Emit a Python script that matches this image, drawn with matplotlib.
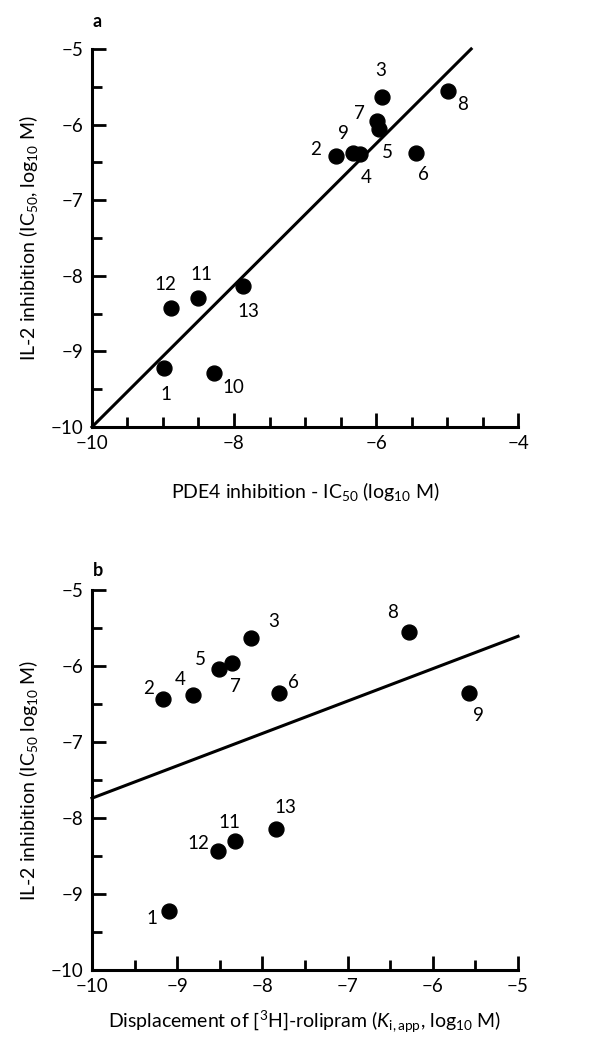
import matplotlib
matplotlib.use('Agg')
import matplotlib.pyplot as plt
from matplotlib.ticker import MultipleLocator

plt.rcParams['font.family'] = ['Lato', 'DejaVu Sans']
plt.rcParams['mathtext.fontset'] = 'custom'
plt.rcParams['mathtext.rm'] = 'Lato'
plt.rcParams['mathtext.it'] = 'Lato:italic'

# Panel a: PDE4 inhibition vs IL-2 inhibition
labels_a = ['1', '2', '3', '4', '5', '6', '7', '8', '9', '10', '11', '12', '13']
pde4_ic50 = [-8.98, -6.56, -5.91, -6.22, -5.96, -5.43, -5.98, -4.98, -6.32, -8.28, -8.50, -8.89, -7.88]
il2_a = [-9.22, -6.42, -5.64, -6.39, -6.06, -6.37, -5.95, -5.55, -6.37, -9.29, -8.30, -8.43, -8.14]
fit_a_x = [-10.0, -4.66]
fit_a_y = [-10.0, -5.0]

# Panel b: rolipram displacement vs IL-2 inhibition
labels_b = ['1', '2', '3', '4', '5', '6', '7', '8', '9', '11', '12', '13']
rolipram_ki = [-9.10, -9.17, -8.13, -8.82, -8.51, -7.80, -8.36, -6.28, -5.58, -8.32, -8.52, -7.84]
il2_b = [-9.23, -6.43, -5.63, -6.38, -6.04, -6.36, -5.96, -5.55, -6.36, -8.30, -8.43, -8.15]
fit_b_x = [-10.0, -5.0]
fit_b_y = [-7.74, -5.61]

# label offsets (points)
offs_a = {'1': (1, -19), '2': (-15, 5), '3': (-1.5, 19), '4': (4, -17), '5': (6, -17),
          '6': (5, -16), '7': (-13, 5), '8': (10, -10), '9': (-7, 14), '10': (14, -10),
          '11': (2, 17), '12': (-4, 17), '13': (4, -18)}
offs_b = {'1': (-12, -5), '2': (-10, 7), '3': (16, 11.5), '4': (-9, 11), '5': (-13, 7),
          '6': (10, 8), '7': (3, -17), '8': (-11.5, 14), '9': (7, -16), '11': (-4, 13),
          '12': (-14, 5), '13': (7, 16)}

fig = plt.figure(figsize=(6.02, 10.46), dpi=100)
ax1 = fig.add_axes([0.1528, 0.5918, 0.7077, 0.3614])
ax2 = fig.add_axes([0.1528, 0.0727, 0.7077, 0.3633])


def style(ax, xlim, xmajor):
    ax.set_xlim(*xlim)
    ax.set_ylim(-10, -5)
    for s in ['top', 'right']:
        ax.spines[s].set_visible(False)
    for s in ['left', 'bottom']:
        ax.spines[s].set_linewidth(2.2)
    ax.xaxis.set_major_locator(MultipleLocator(xmajor))
    ax.xaxis.set_minor_locator(MultipleLocator(0.5))
    ax.yaxis.set_major_locator(MultipleLocator(1))
    ax.yaxis.set_minor_locator(MultipleLocator(0.5))
    ax.tick_params(which='major', direction='in', length=10, width=2, labelsize=13.5, pad=6)
    ax.tick_params(which='minor', direction='in', length=7, width=2)
    ax.xaxis.set_major_formatter(plt.FuncFormatter(lambda v, p: '\u2212%d' % abs(v)))
    ax.yaxis.set_major_formatter(plt.FuncFormatter(lambda v, p: '\u2212%d' % abs(v)))


style(ax1, (-10, -4), 2)
ax1.plot(fit_a_x, fit_a_y, color='black', lw=2.2, clip_on=False)
ax1.scatter(pde4_ic50, il2_a, s=115, color='black', zorder=3, clip_on=False)
for lab, x, y in zip(labels_a, pde4_ic50, il2_a):
    ax1.annotate(lab, (x, y), xytext=offs_a[lab], textcoords='offset points',
                 ha='center', va='center', fontsize=13.5)
ax1.set_xlabel('PDE4 inhibition - IC$_{50}$ (log$_{10}$ M)', fontsize=14, labelpad=20)
ax1.set_ylabel('IL-2 inhibition (IC$_{50}$, log$_{10}$ M)', fontsize=14, labelpad=8)
fig.text(0.153, 0.979, 'a', fontsize=13, fontweight='bold', ha='left', va='center')

style(ax2, (-10, -5), 1)
ax2.plot(fit_b_x, fit_b_y, color='black', lw=2.2, clip_on=False)
ax2.scatter(rolipram_ki, il2_b, s=115, color='black', zorder=3, clip_on=False)
for lab, x, y in zip(labels_b, rolipram_ki, il2_b):
    ax2.annotate(lab, (x, y), xytext=offs_b[lab], textcoords='offset points',
                 ha='center', va='center', fontsize=13.5)
ax2.set_xlabel('Displacement of [$^3$H]-rolipram ($K_{\\mathrm{i,app}}$, log$_{10}$ M)',
               fontsize=14, labelpad=10)
ax2.set_ylabel('IL-2 inhibition (IC$_{50}$ log$_{10}$ M)', fontsize=14, labelpad=8)
fig.text(0.155, 0.455, 'b', fontsize=13, fontweight='bold', ha='left', va='center')

fig.savefig('out.png', dpi=100, facecolor='white')
